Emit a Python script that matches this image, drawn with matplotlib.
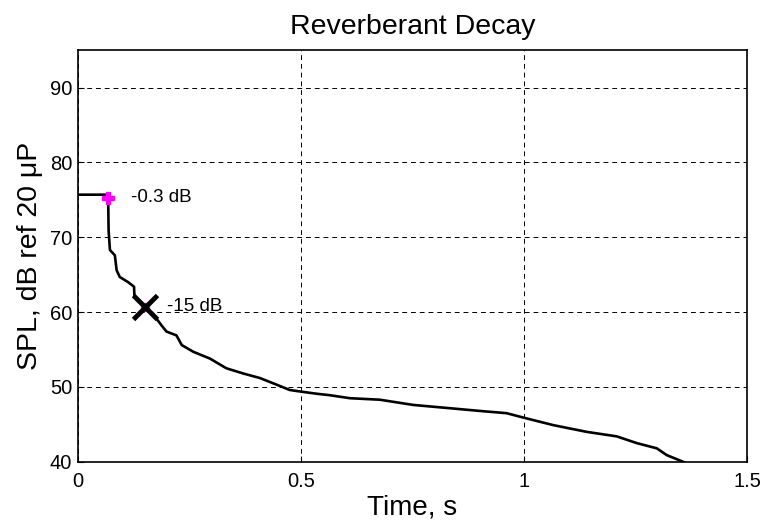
import matplotlib
matplotlib.use("Agg")
import matplotlib.pyplot as plt

plt.rcParams['font.family'] = ['Liberation Sans', 'DejaVu Sans']

# Decay curve
time_s = [0.0, 0.068, 0.068, 0.069, 0.072, 0.083, 0.087, 0.094, 0.113, 0.126, 0.127,
          0.150, 0.173, 0.188, 0.199, 0.221, 0.233, 0.259, 0.296, 0.333, 0.371,
          0.408, 0.446, 0.475, 0.498, 0.535, 0.565, 0.610, 0.677, 0.752, 0.827,
          0.901, 0.961, 1.006, 1.066, 1.141, 1.208, 1.253, 1.298, 1.320, 1.357, 1.365]
spl_db = [75.7, 75.7, 75.2, 70.9, 68.3, 67.6, 65.6, 64.7, 64.0, 63.4, 62.0,
          60.7, 59.4, 58.2, 57.4, 56.9, 55.6, 54.7, 53.8, 52.5, 51.8,
          51.2, 50.3, 49.6, 49.4, 49.1, 48.9, 48.5, 48.3, 47.6, 47.2,
          46.8, 46.5, 45.8, 44.9, 44.0, 43.4, 42.5, 41.8, 40.9, 40.0, 39.8]

# Marked points
mark_t = [0.068, 0.150]
mark_db = [75.3, 60.7]
mark_labels = ['-0.3 dB', '-15 dB']

title = 'Reverberant Decay'
xlabel = 'Time, s'
ylabel = 'SPL, dB ref 20 μP'
xticks = [0, 0.5, 1, 1.5]
xticklabels = ['0', '0.5', '1', '1.5']
yticks = [40, 50, 60, 70, 80, 90]

fig = plt.figure(figsize=(7.63, 5.29), dpi=100)
ax = fig.add_axes([0.102, 0.127, 0.877, 0.778])

ax.plot(time_s, spl_db, color='black', lw=1.9, solid_joinstyle='round', zorder=3)
ax.plot(mark_t[0], mark_db[0], marker='P', color='magenta', ms=8, mec='magenta', zorder=4)
ax.plot(mark_t[1], mark_db[1], marker='P', color='magenta', ms=6, zorder=4)
ax.plot(mark_t[1], mark_db[1], marker='x', color='black', ms=17, mew=3.5, zorder=5)

ax.text(mark_t[0] + 0.052, mark_db[0], mark_labels[0], fontsize=13.5, va='center', ha='left')
ax.text(mark_t[1] + 0.050, mark_db[1], mark_labels[1], fontsize=13.5, va='center', ha='left')

ax.set_xlim(0, 1.5)
ax.set_ylim(40, 95)
ax.set_xticks(xticks)
ax.set_xticklabels(xticklabels)
ax.set_yticks(yticks)
ax.tick_params(direction='in', length=4, width=0.8, labelsize=14.5)
ax.tick_params(axis='x', pad=7)
ax.tick_params(axis='y', pad=4)
ax.grid(True, color='black', linestyle=(0, (5, 4)), lw=0.7)
for s in ax.spines.values():
    s.set_linewidth(1.2)

ax.set_title(title, fontsize=20.5, pad=12)
ax.set_xlabel(xlabel, fontsize=20, labelpad=3)
ax.set_ylabel(ylabel, fontsize=20.5, labelpad=5)

fig.savefig('out.png', dpi=100)
